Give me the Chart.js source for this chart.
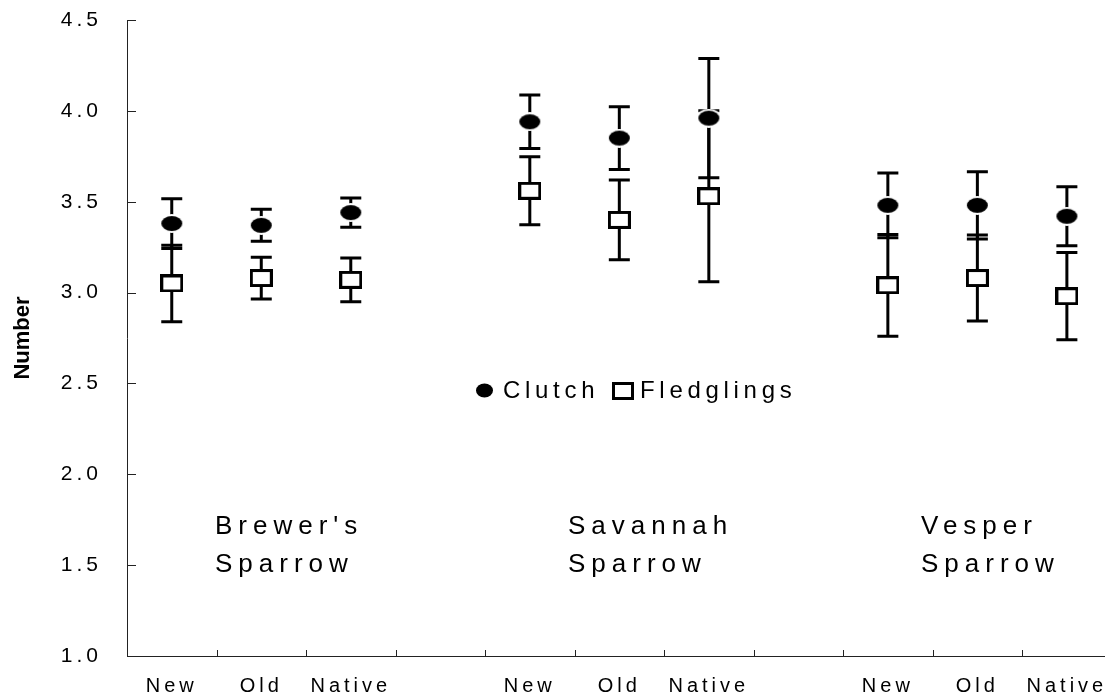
<!DOCTYPE html>
<html>
<head>
<meta charset="utf-8">
<title>Clutch and fledglings</title>
<script src="https://cdn.jsdelivr.net/npm/chart.js@4.4.1/dist/chart.umd.min.js"></script>
<style>
html, body { margin: 0; padding: 0; background: #fff; overflow: hidden; }
#wrap { width: 1105px; height: 696px; }
canvas { display: block; }
</style>
</head>
<body>
<div id="wrap"><canvas id="chart" width="1105" height="696"></canvas></div>
<script>
// categories along the x axis (blank slots separate the species)
const categories = ['New', 'Old', 'Native', '', 'New', 'Old', 'Native', '', 'New', 'Old', 'Native'];
const clutch = [3.38, 3.37, 3.44, null, 3.94, 3.85, 3.96, null, 3.48, 3.48, 3.42];
const clutchErr = [0.137, 0.088, 0.08, null, 0.147, 0.173, 0.328, null, 0.178, 0.185, 0.163];
const fledglings = [3.05, 3.08, 3.07, null, 3.56, 3.40, 3.53, null, 3.04, 3.08, 2.98];
const fledglingsErr = [0.21, 0.115, 0.12, null, 0.187, 0.22, 0.47, null, 0.28, 0.237, 0.24];
const yTicks = [1.0, 1.5, 2.0, 2.5, 3.0, 3.5, 4.0, 4.5];
const species = [["Brewer's", 'Sparrow'], ['Savannah', 'Sparrow'], ['Vesper', 'Sparrow']];

const FONT = "Arial, 'Liberation Sans', sans-serif";

function toPoints(values) {
    return values
        .map((v, i) => ({ x: i, y: v }))
        .filter(p => p.y !== null);
}

// filled ellipse with a thin white halo
function makeDot(w, h, ring) {
    const c = document.createElement('canvas');
    c.width = w + ring * 2;
    c.height = h + ring * 2;
    const g = c.getContext('2d');
    if (ring) {
        g.fillStyle = '#fff';
        g.beginPath();
        g.ellipse(c.width / 2, c.height / 2, c.width / 2, c.height / 2, 0, 0, Math.PI * 2);
        g.fill();
    }
    g.fillStyle = '#000';
    g.beginPath();
    g.ellipse(c.width / 2, c.height / 2, w / 2, h / 2, 0, 0, Math.PI * 2);
    g.fill();
    return c;
}

// open rectangle, white inside
function makeBox(w, h, lw) {
    const c = document.createElement('canvas');
    c.width = w;
    c.height = h;
    const g = c.getContext('2d');
    g.fillStyle = '#fff';
    g.fillRect(0, 0, w, h);
    g.strokeStyle = '#000';
    g.lineWidth = lw;
    g.strokeRect(lw / 2, lw / 2, w - lw, h - lw);
    return c;
}

const dotImg = makeDot(21, 15, 2);
const boxImg = makeBox(23, 18, 3);

const spacing = {
    id: 'spacing',
    beforeLayout(chart) { chart.ctx.letterSpacing = '4px'; },
    beforeDraw(chart) { chart.ctx.letterSpacing = '4px'; }
};

const errorBars = {
    id: 'errorBars',
    beforeDatasetsDraw(chart) {
        const { ctx, scales: { x, y } } = chart;
        ctx.save();
        ctx.strokeStyle = '#000';
        ctx.lineWidth = 3;
        chart.data.datasets.forEach(ds => {
            ds.data.forEach(p => {
                const e = ds.errors[p.x];
                const px = x.getPixelForValue(p.x);
                const top = y.getPixelForValue(p.y + e);
                const bot = y.getPixelForValue(p.y - e);
                ctx.beginPath();
                ctx.moveTo(px, top);
                ctx.lineTo(px, bot);
                ctx.moveTo(px - 10.5, top);
                ctx.lineTo(px + 10.5, top);
                ctx.moveTo(px - 10.5, bot);
                ctx.lineTo(px + 10.5, bot);
                ctx.stroke();
            });
        });
        ctx.restore();
    }
};

// inward tick marks, legend, species names and the y title
const extras = {
    id: 'extras',
    afterDraw(chart) {
        const { ctx, scales: { x, y } } = chart;
        const area = chart.chartArea;
        ctx.save();
        ctx.strokeStyle = '#222';
        ctx.lineWidth = 1;
        ctx.beginPath();
        yTicks.forEach(v => {
            const py = Math.round(y.getPixelForValue(v)) + 0.5;
            ctx.moveTo(area.left, py);
            ctx.lineTo(area.left + 9, py);
        });
        for (let i = 0; i < categories.length - 1; i++) {
            const px = Math.round(x.getPixelForValue(i + 0.5)) + 0.5;
            ctx.moveTo(px, area.bottom);
            ctx.lineTo(px, area.bottom - 6);
        }
        // axis runs on to the right edge
        const by = Math.round(area.bottom) + 0.5;
        ctx.moveTo(area.right - 1, by);
        ctx.lineTo(chart.width, by);
        ctx.stroke();

        // legend
        ctx.fillStyle = '#000';
        ctx.textBaseline = 'alphabetic';
        ctx.textAlign = 'left';
        ctx.font = '24px ' + FONT;
        ctx.letterSpacing = '4.7px';
        ctx.beginPath();
        ctx.ellipse(484.5, 390.5, 8.5, 7, 0, 0, Math.PI * 2);
        ctx.fill();
        ctx.fillText(chart.data.datasets[0].label, 503, 398);
        ctx.lineWidth = 3;
        ctx.strokeStyle = '#000';
        ctx.strokeRect(613.5, 383.5, 19, 15);
        ctx.fillText(chart.data.datasets[1].label, 640, 398);

        // species names
        ctx.font = '26px ' + FONT;
        ctx.letterSpacing = '6px';
        const left = [215, 568, 921];
        species.forEach((lines, k) => {
            ctx.fillText(lines[0], left[k], 534);
            ctx.fillText(lines[1], left[k], 572);
        });

        // y title
        ctx.letterSpacing = '0px';
        ctx.font = 'bold 22px ' + FONT;
        ctx.textAlign = 'center';
        ctx.textBaseline = 'middle';
        ctx.translate(23, (area.top + area.bottom) / 2);
        ctx.rotate(-Math.PI / 2);
        ctx.fillText('Number', 0, 0);
        ctx.restore();
    }
};

const ctx = document.getElementById('chart').getContext('2d');

new Chart(ctx, {
    type: 'scatter',
    data: {
        datasets: [
            { label: 'Clutch', data: toPoints(clutch), errors: clutchErr, pointStyle: dotImg },
            { label: 'Fledglings', data: toPoints(fledglings), errors: fledglingsErr, pointStyle: boxImg }
        ]
    },
    options: {
        responsive: false,
        animation: false,
        events: [],
        layout: { padding: { top: 20, right: 0, bottom: 0, left: 0 } },
        plugins: {
            legend: { display: false },
            tooltip: { enabled: false }
        },
        scales: {
            x: {
                type: 'linear',
                min: -0.5,
                max: 10.37,
                afterBuildTicks: s => { s.ticks = categories.map((c, i) => ({ value: i })); },
                afterFit: s => { s.height = 40; s.paddingLeft = 0; s.paddingRight = 0; },
                grid: { display: false, drawTicks: false },
                border: { color: '#222', width: 1 },
                ticks: {
                    autoSkip: false,
                    maxRotation: 0,
                    padding: 18,
                    color: '#000',
                    font: { family: FONT, size: 20 },
                    callback: v => categories[v]
                }
            },
            y: {
                min: 1,
                max: 4.5,
                afterBuildTicks: s => { s.ticks = yTicks.map(v => ({ value: v })); },
                afterFit: s => { s.width = 127; s.paddingTop = 0; s.paddingBottom = 0; },
                grid: { display: false, drawTicks: false },
                border: { color: '#222', width: 1 },
                ticks: {
                    padding: 25,
                    color: '#000',
                    font: { family: FONT, size: 21 },
                    callback: v => v.toFixed(1)
                }
            }
        }
    },
    plugins: [spacing, errorBars, extras]
});
</script>
</body>
</html>
